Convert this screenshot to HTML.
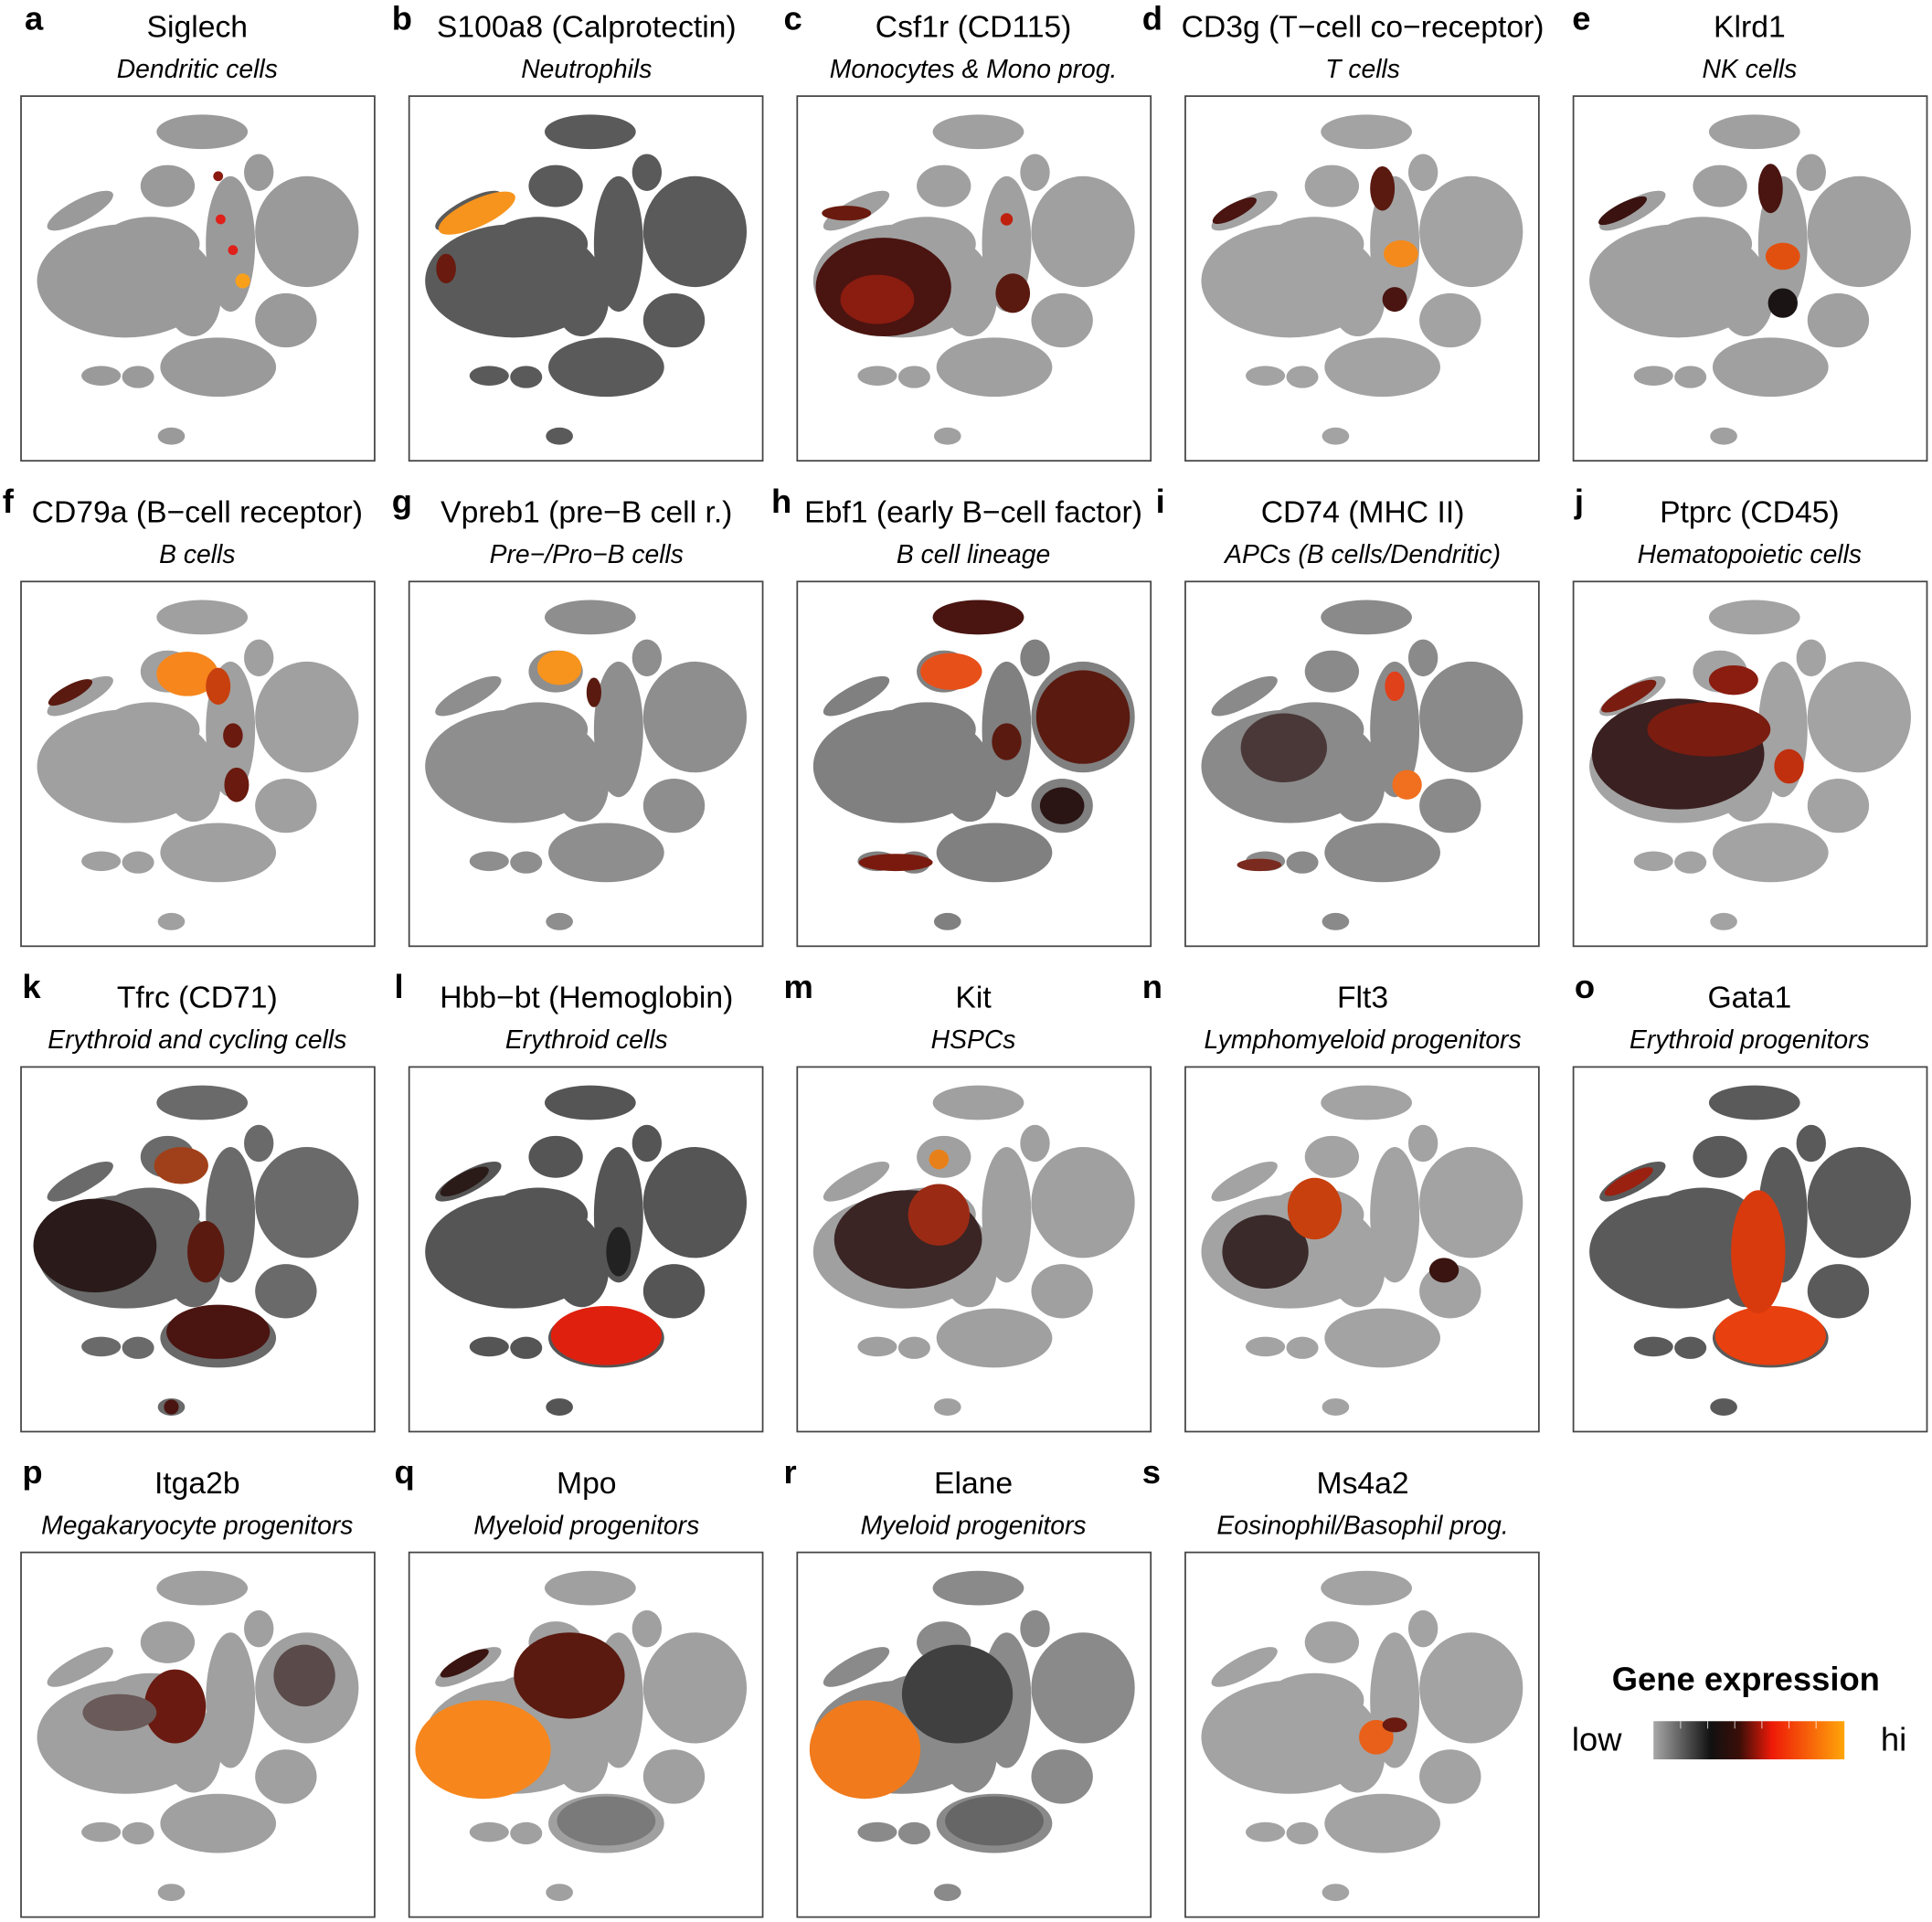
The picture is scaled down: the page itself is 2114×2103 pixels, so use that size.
<!DOCTYPE html>
<html><head><meta charset="utf-8"><style>
html,body{margin:0;padding:0;background:#fff}
svg{display:block}
text{font-family:"Liberation Sans",Arial,sans-serif}
.t{font-size:25px;text-anchor:middle}
.s{font-size:21px;font-style:italic;text-anchor:middle}
.l{font-size:27px;font-weight:bold}
</style></head><body>
<svg width="2114" height="2103" viewBox="0 0 1568 1560" xmlns="http://www.w3.org/2000/svg">
<defs>
<linearGradient id="gr" x1="0" x2="1" y1="0" y2="0">
<stop offset="0" stop-color="#a8a8a8"/><stop offset="0.3" stop-color="#111"/><stop offset="0.45" stop-color="#3a0e08"/><stop offset="0.62" stop-color="#ee1a08"/><stop offset="1" stop-color="#ffa60a"/>
</linearGradient>
<g id="m">
<ellipse cx="147" cy="29" rx="37" ry="14"/>
<ellipse cx="193" cy="62" rx="12" ry="15"/>
<ellipse cx="119" cy="73" rx="22" ry="17"/>
<ellipse cx="48" cy="93" rx="30" ry="9" transform="rotate(-28 48 93)"/>
<ellipse cx="232" cy="110" rx="42" ry="45"/>
<ellipse cx="85" cy="150" rx="72" ry="46"/>
<ellipse cx="105" cy="120" rx="40" ry="22"/>
<ellipse cx="170" cy="120" rx="20" ry="55"/>
<ellipse cx="140" cy="165" rx="22" ry="30"/>
<ellipse cx="215" cy="182" rx="25" ry="22"/>
<ellipse cx="160" cy="220" rx="47" ry="24"/>
<ellipse cx="65" cy="227" rx="16" ry="8"/>
<ellipse cx="95" cy="228" rx="13" ry="9"/>
<ellipse cx="122" cy="276" rx="11" ry="7"/>
</g>
</defs>
<rect width="1568" height="1560" fill="#fff"/>
<g fill="none" stroke="#444" stroke-width="1.3">
<rect x="17" y="78" width="287" height="296"/><rect x="332" y="78" width="287" height="296"/><rect x="647" y="78" width="287" height="296"/><rect x="962" y="78" width="287" height="296"/><rect x="1277" y="78" width="287" height="296"/>
<rect x="17" y="472" width="287" height="296"/><rect x="332" y="472" width="287" height="296"/><rect x="647" y="472" width="287" height="296"/><rect x="962" y="472" width="287" height="296"/><rect x="1277" y="472" width="287" height="296"/>
<rect x="17" y="866" width="287" height="296"/><rect x="332" y="866" width="287" height="296"/><rect x="647" y="866" width="287" height="296"/><rect x="962" y="866" width="287" height="296"/><rect x="1277" y="866" width="287" height="296"/>
<rect x="17" y="1260" width="287" height="296"/><rect x="332" y="1260" width="287" height="296"/><rect x="647" y="1260" width="287" height="296"/><rect x="962" y="1260" width="287" height="296"/>
</g>
<!-- bases -->
<use href="#m" x="17" y="78" fill="#9a9a9a"/>
<use href="#m" x="332" y="78" fill="#5a5a5a"/>
<use href="#m" x="647" y="78" fill="#a0a0a0"/>
<use href="#m" x="962" y="78" fill="#a3a3a3"/>
<use href="#m" x="1277" y="78" fill="#a0a0a0"/>
<use href="#m" x="17" y="472" fill="#a0a0a0"/>
<use href="#m" x="332" y="472" fill="#8e8e8e"/>
<use href="#m" x="647" y="472" fill="#808080"/>
<use href="#m" x="962" y="472" fill="#8a8a8a"/>
<use href="#m" x="1277" y="472" fill="#a3a3a3"/>
<use href="#m" x="17" y="866" fill="#6a6a6a"/>
<use href="#m" x="332" y="866" fill="#555"/>
<use href="#m" x="647" y="866" fill="#a0a0a0"/>
<use href="#m" x="962" y="866" fill="#a3a3a3"/>
<use href="#m" x="1277" y="866" fill="#5a5a5a"/>
<use href="#m" x="17" y="1260" fill="#a0a0a0"/>
<use href="#m" x="332" y="1260" fill="#a0a0a0"/>
<use href="#m" x="647" y="1260" fill="#8a8a8a"/>
<use href="#m" x="962" y="1260" fill="#a3a3a3"/>
<!-- highlights -->
<g transform="translate(17,78)"><circle cx="180" cy="150" r="6" fill="#f9a01b"/><circle cx="172" cy="125" r="4" fill="#e0201a"/><circle cx="162" cy="100" r="4" fill="#e0201a"/><circle cx="160" cy="65" r="4" fill="#8a1a10"/></g>
<g transform="translate(332,78)"><ellipse cx="55" cy="95" rx="34" ry="11" transform="rotate(-25 55 95)" fill="#f7941d"/><ellipse cx="30" cy="140" rx="8" ry="12" fill="#6a1a0e"/></g>
<g transform="translate(647,78)"><ellipse cx="70" cy="155" rx="55" ry="40" fill="#4a1410"/><ellipse cx="65" cy="165" rx="30" ry="20" fill="#8a1c10"/><ellipse cx="175" cy="160" rx="14" ry="16" fill="#5a1a10"/><ellipse cx="40" cy="95" rx="20" ry="6" fill="#6a1a0e"/><circle cx="170" cy="100" r="5" fill="#c0200e"/></g>
<g transform="translate(962,78)"><ellipse cx="175" cy="128" rx="14" ry="11" fill="#f48a1c"/><ellipse cx="160" cy="75" rx="10" ry="18" fill="#5a1a10"/><ellipse cx="40" cy="93" rx="20" ry="6" transform="rotate(-28 40 93)" fill="#4a1410"/><ellipse cx="170" cy="165" rx="10" ry="10" fill="#4a1410"/></g>
<g transform="translate(1277,78)"><ellipse cx="170" cy="130" rx="14" ry="11" fill="#e25010"/><ellipse cx="160" cy="75" rx="10" ry="20" fill="#4a1410"/><ellipse cx="170" cy="168" rx="12" ry="12" fill="#1a1414"/><ellipse cx="40" cy="93" rx="22" ry="6" transform="rotate(-28 40 93)" fill="#3a1210"/></g>
<g transform="translate(17,472)"><ellipse cx="135" cy="75" rx="25" ry="18" fill="#f7861c"/><ellipse cx="160" cy="85" rx="10" ry="15" fill="#c8400e"/><ellipse cx="40" cy="90" rx="20" ry="6" transform="rotate(-28 40 90)" fill="#5a1a10"/><ellipse cx="175" cy="165" rx="10" ry="14" fill="#6a1a0e"/><ellipse cx="172" cy="125" rx="8" ry="10" fill="#6a1a0e"/></g>
<g transform="translate(332,472)"><ellipse cx="122" cy="70" rx="18" ry="14" fill="#f7941d"/><ellipse cx="150" cy="90" rx="6" ry="12" fill="#5a1a10"/></g>
<g transform="translate(647,472)"><ellipse cx="147" cy="29" rx="37" ry="14" fill="#4a1410"/><ellipse cx="125" cy="73" rx="25" ry="15" fill="#e8501a"/><ellipse cx="232" cy="110" rx="38" ry="38" fill="#5a1a10"/><ellipse cx="170" cy="130" rx="12" ry="15" fill="#5a1a10"/><ellipse cx="215" cy="182" rx="18" ry="15" fill="#2a1414"/><ellipse cx="80" cy="228" rx="30" ry="7" fill="#7a1a0e"/></g>
<g transform="translate(962,472)"><ellipse cx="80" cy="135" rx="35" ry="28" fill="#4a3838"/><ellipse cx="170" cy="85" rx="8" ry="12" fill="#e0401a"/><ellipse cx="180" cy="165" rx="12" ry="12" fill="#f07020"/><ellipse cx="60" cy="230" rx="18" ry="5" fill="#7a2a1e"/></g>
<g transform="translate(1277,472)"><ellipse cx="85" cy="140" rx="70" ry="45" fill="#3a2020"/><ellipse cx="110" cy="120" rx="50" ry="22" fill="#7a1c10"/><ellipse cx="130" cy="80" rx="20" ry="12" fill="#8a1c10"/><ellipse cx="45" cy="93" rx="25" ry="7" transform="rotate(-28 45 93)" fill="#7a1c10"/><ellipse cx="175" cy="150" rx="12" ry="14" fill="#c0300e"/></g>
<g transform="translate(17,866)"><ellipse cx="60" cy="145" rx="50" ry="38" fill="#2a1a1a"/><ellipse cx="130" cy="80" rx="22" ry="15" fill="#a0401a"/><ellipse cx="160" cy="215" rx="42" ry="22" fill="#4a1410"/><ellipse cx="150" cy="150" rx="15" ry="25" fill="#5a1a10"/><circle cx="122" cy="276" r="6" fill="#4a1410"/></g>
<g transform="translate(332,866)"><ellipse cx="160" cy="218" rx="45" ry="24" fill="#e0200e"/><ellipse cx="45" cy="93" rx="22" ry="7" transform="rotate(-28 45 93)" fill="#2a1a18"/><ellipse cx="170" cy="150" rx="10" ry="20" fill="#222"/></g>
<g transform="translate(647,866)"><ellipse cx="90" cy="140" rx="60" ry="40" fill="#3a2424"/><ellipse cx="115" cy="120" rx="25" ry="25" fill="#9a2a14"/><circle cx="115" cy="75" r="8" fill="#e8801a"/></g>
<g transform="translate(962,866)"><ellipse cx="65" cy="150" rx="35" ry="30" fill="#3a2a2a"/><ellipse cx="105" cy="115" rx="22" ry="25" fill="#c8400e"/><ellipse cx="210" cy="165" rx="12" ry="10" fill="#3a1410"/></g>
<g transform="translate(1277,866)"><ellipse cx="160" cy="218" rx="45" ry="24" fill="#e8400e"/><ellipse cx="150" cy="150" rx="22" ry="50" fill="#d83a0e"/><ellipse cx="45" cy="93" rx="22" ry="6" transform="rotate(-28 45 93)" fill="#9a2010"/></g>
<g transform="translate(17,1260)"><ellipse cx="125" cy="125" rx="25" ry="30" fill="#6a1a10"/><ellipse cx="230" cy="100" rx="25" ry="25" fill="#5a4a4a"/><ellipse cx="80" cy="130" rx="30" ry="15" fill="#6a5a5a"/></g>
<g transform="translate(332,1260)"><ellipse cx="60" cy="160" rx="55" ry="40" fill="#f7861c"/><ellipse cx="130" cy="100" rx="45" ry="35" fill="#5a1a10"/><ellipse cx="45" cy="90" rx="22" ry="6" transform="rotate(-28 45 90)" fill="#3a1410"/><ellipse cx="160" cy="218" rx="40" ry="20" fill="#7a7a7a"/></g>
<g transform="translate(647,1260)"><ellipse cx="55" cy="160" rx="45" ry="40" fill="#f07a1c"/><ellipse cx="130" cy="115" rx="45" ry="40" fill="#404040"/><ellipse cx="160" cy="218" rx="40" ry="20" fill="#666"/></g>
<g transform="translate(962,1260)"><ellipse cx="155" cy="150" rx="14" ry="14" fill="#e8601a"/><ellipse cx="170" cy="140" rx="10" ry="6" fill="#6a1a10"/></g>
<!-- letters -->
<g class="l">
<text x="20" y="24">a</text><text x="318" y="24">b</text><text x="636" y="24">c</text><text x="927" y="24">d</text><text x="1276" y="24">e</text>
<text x="2" y="416">f</text><text x="318" y="416">g</text><text x="626" y="416">h</text><text x="938" y="416">i</text><text x="1278" y="416">j</text>
<text x="18" y="810">k</text><text x="320" y="810">l</text><text x="636" y="810">m</text><text x="927" y="810">n</text><text x="1278" y="810">o</text>
<text x="18" y="1204">p</text><text x="320" y="1204">q</text><text x="636" y="1204">r</text><text x="927" y="1204">s</text>
</g>
<g class="t">
<text x="160" y="30">Siglech</text><text x="476" y="30">S100a8 (Calprotectin)</text><text x="790" y="30">Csf1r (CD115)</text><text x="1106" y="30">CD3g (T−cell co−receptor)</text><text x="1420" y="30">Klrd1</text>
<text x="160" y="424">CD79a (B−cell receptor)</text><text x="476" y="424">Vpreb1 (pre−B cell r.)</text><text x="790" y="424">Ebf1 (early B−cell factor)</text><text x="1106" y="424">CD74 (MHC II)</text><text x="1420" y="424">Ptprc (CD45)</text>
<text x="160" y="818">Tfrc (CD71)</text><text x="476" y="818">Hbb−bt (Hemoglobin)</text><text x="790" y="818">Kit</text><text x="1106" y="818">Flt3</text><text x="1420" y="818">Gata1</text>
<text x="160" y="1212">Itga2b</text><text x="476" y="1212">Mpo</text><text x="790" y="1212">Elane</text><text x="1106" y="1212">Ms4a2</text>
</g>
<g class="s">
<text x="160" y="63">Dendritic cells</text><text x="476" y="63">Neutrophils</text><text x="790" y="63">Monocytes &amp; Mono prog.</text><text x="1106" y="63">T cells</text><text x="1420" y="63">NK cells</text>
<text x="160" y="457">B cells</text><text x="476" y="457">Pre−/Pro−B cells</text><text x="790" y="457">B cell lineage</text><text x="1106" y="457">APCs (B cells/Dendritic)</text><text x="1420" y="457">Hematopoietic cells</text>
<text x="160" y="851">Erythroid and cycling cells</text><text x="476" y="851">Erythroid cells</text><text x="790" y="851">HSPCs</text><text x="1106" y="851">Lymphomyeloid progenitors</text><text x="1420" y="851">Erythroid progenitors</text>
<text x="160" y="1245">Megakaryocyte progenitors</text><text x="476" y="1245">Myeloid progenitors</text><text x="790" y="1245">Myeloid progenitors</text><text x="1106" y="1245">Eosinophil/Basophil prog.</text>
</g>
<text x="1417" y="1372" text-anchor="middle" style="font-size:27px;font-weight:bold">Gene expression</text>
<text x="1296" y="1421" text-anchor="middle" style="font-size:27px">low</text>
<text x="1537" y="1421" text-anchor="middle" style="font-size:27px">hi</text>
<rect x="1342" y="1397" width="155" height="31" fill="url(#gr)"/>
<g stroke="#fff" stroke-width="0.8" opacity="0.7"><line x1="1364" y1="1397" x2="1364" y2="1403"/><line x1="1386" y1="1397" x2="1386" y2="1403"/><line x1="1408" y1="1397" x2="1408" y2="1403"/><line x1="1430" y1="1397" x2="1430" y2="1403"/><line x1="1452" y1="1397" x2="1452" y2="1403"/><line x1="1474" y1="1397" x2="1474" y2="1403"/></g>
</svg>
</body></html>
